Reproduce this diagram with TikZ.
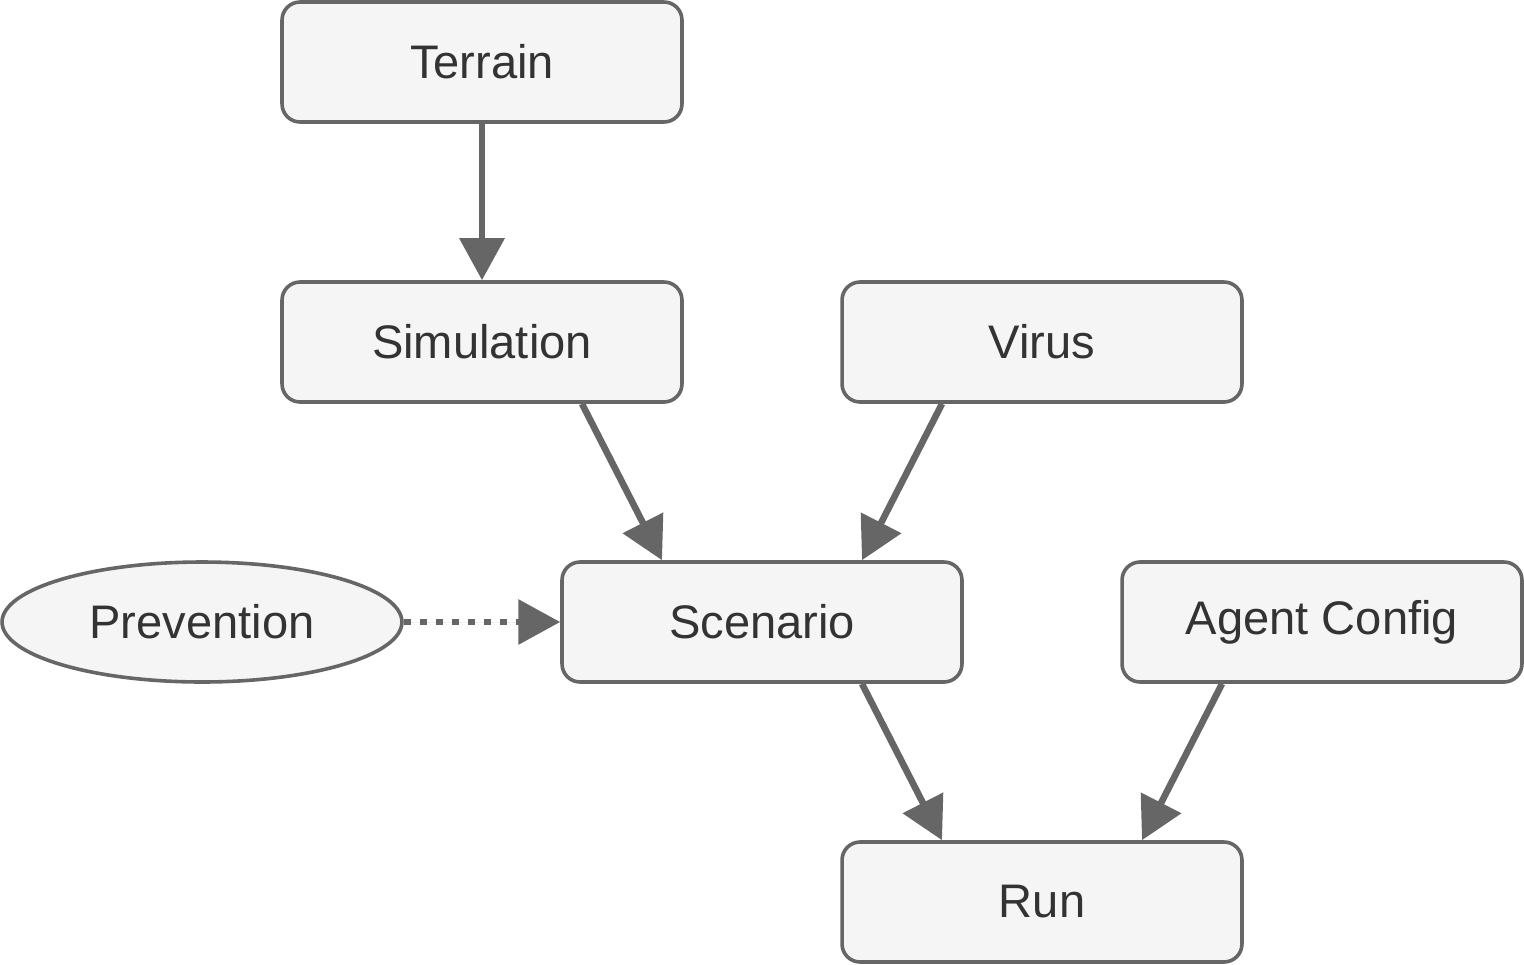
\documentclass[tikz,border=0pt]{standalone}
\usepackage{fontspec}
\setmainfont{Liberation Sans}
\usetikzlibrary{arrows.meta,shapes.geometric}
\definecolor{boxfill}{HTML}{F5F5F5}
\definecolor{boxline}{HTML}{666666}
\definecolor{txt}{HTML}{333333}
\begin{document}
\begin{tikzpicture}[x=0.02cm,y=-0.02cm,
  box/.style={draw=boxline,fill=boxfill,line width=0.072cm,rounded corners=0.36cm,
    minimum width=8cm,minimum height=2.4cm,inner sep=0pt,text=txt,
    font=\fontsize{26.8pt}{30pt}\selectfont},
  oval/.style={box,ellipse,rounded corners=0pt},
  link/.style={draw=boxline,line width=0.132cm,
    -{Triangle[length=0.84cm,width=0.88cm]},fill=boxline},
  dotlink/.style={link,dash pattern=on 0.14cm off 0.18cm}
]
\useasboundingbox (0,0) rectangle (1524,964);
\node[box] (ter) at (482,62) {Terrain};
\node[box] (simn) at (482,342) {Simulation};
\node[box] (vir) at (1042,342) {Virus};
\node[box] (sce) at (762,622) {Scenario};
\node[oval] (pre) at (202,622) {Prevention};
\node[box] (age) at (1322,622) {Agent Config};
\node[box] (run) at (1042,902) {Run};

\draw[link] (ter.south) -- (simn.north);
\draw[link] ([xshift=2cm]simn.south) -- ([xshift=-2cm]sce.north);
\draw[link] ([xshift=-2cm]vir.south) -- ([xshift=2cm]sce.north);
\draw[link] ([xshift=2cm]sce.south) -- ([xshift=-2cm]run.north);
\draw[link] ([xshift=-2cm]age.south) -- ([xshift=2cm]run.north);
\draw[dotlink] (pre.east) -- (sce.west);
\end{tikzpicture}
\end{document}
